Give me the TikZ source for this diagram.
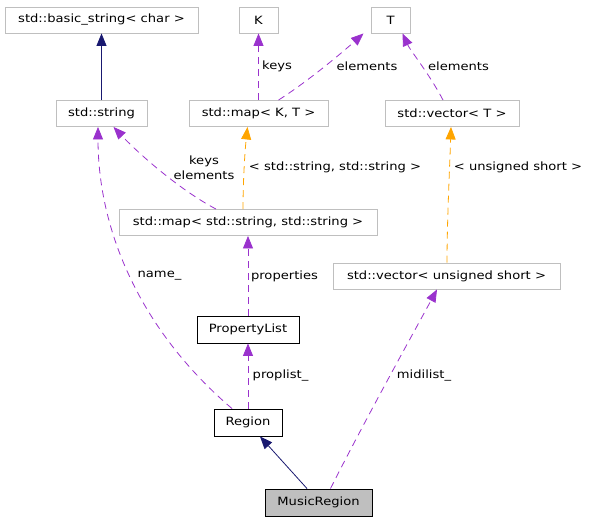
\documentclass[tikz,border=0pt]{standalone}
\usepackage{fontspec}
\setmainfont{DejaVu Sans}[FakeStretch=1.15]
\usetikzlibrary{arrows.meta}
\definecolor{purp}{HTML}{9A32CD}
\definecolor{orng}{HTML}{FFA500}
\definecolor{navyb}{HTML}{191970}
\definecolor{grayb}{HTML}{BFBFBF}
\begin{document}
\begin{tikzpicture}[x=1pt,y=-1pt,
  every node/.style={font=\fontsize{11.4}{15}\selectfont, inner sep=0pt},
  ext/.style={draw=grayb, line width=0.9pt, minimum height=26pt},
  doc/.style={draw=black, line width=0.9pt, minimum height=27pt},
  cur/.style={draw=black, fill=grayb, line width=0.9pt, minimum height=27pt},
  tip/.style={-{Triangle[length=12.5pt,width=10pt]}},
  usesrel/.style={tip, draw=purp, line width=0.8pt, dash pattern=on 7pt off 5pt},
  tmplrel/.style={tip, draw=orng, line width=0.8pt, dash pattern=on 7pt off 5pt},
  inhrel/.style={tip, draw=navyb, line width=0.8pt},
  lbl/.style={fill=none}
]
\useasboundingbox (0,0) rectangle (593,523);
% nodes
\node[ext, minimum width=193pt] (bs) at (101.5,20) {std::basic\_string< char >};
\node[ext, minimum width=39pt] (K) at (258.5,20) {K};
\node[ext, minimum width=39pt] (T) at (390.5,20) {T};
\node[ext, minimum width=91pt] (str) at (101.5,113.5) {std::string};
\node[ext, minimum width=139pt] (mapKT) at (258.5,113.5) {std::map< K, T >};
\node[ext, minimum width=134pt] (vecT) at (452,113.5) {std::vector< T >};
\node[ext, minimum width=258pt] (mapSS) at (248,222.5) {std::map< std::string, std::string >};
\node[ext, minimum width=227pt] (vecUS) at (446.5,276) {std::vector< unsigned short >};
\node[doc, minimum width=102pt] (PL) at (248,329.5) {PropertyList};
\node[doc, minimum width=68pt] (Reg) at (248,422.5) {Region};
\node[cur, minimum width=107pt] (MR) at (318.5,502.5) {MusicRegion};
% edges
\draw[inhrel] (str.north) -- (bs.south);
\draw[usesrel] (mapKT.north) -- (K.south);
\draw[usesrel] ([xshift=20pt]mapKT.north) .. controls (310,80) and (345,50) .. ([xshift=-27pt]T.south);
\draw[usesrel] ([xshift=-9pt]vecT.north) .. controls (430,75) and (410,50) .. ([xshift=12pt]T.south);
\draw[usesrel] ([xshift=-32pt]mapSS.north) .. controls (180,190) and (140,155) .. ([xshift=12pt]str.south);
\draw[tmplrel] ([xshift=-5pt]mapSS.north) .. controls (243,180) and (245,150) .. ([xshift=-11pt]mapKT.south);
\draw[tmplrel] ([xshift=0.5pt]vecUS.north) .. controls (447,220) and (450,160) .. ([xshift=-1pt]vecT.south);
\draw[usesrel] ([xshift=-16pt]Reg.north) .. controls (140,330) and (98,230) .. ([xshift=-3.5pt]str.south);
\draw[usesrel] (PL.north) -- (mapSS.south);
\draw[usesrel] (Reg.north) -- (PL.south);
\draw[usesrel] ([xshift=12pt]MR.north) .. controls (365,420) and (415,330) .. ([xshift=-9.5pt]vecUS.south);
\draw[inhrel] ([xshift=-11.5pt]MR.north) -- ([xshift=12pt]Reg.south);
% labels
\node[lbl, anchor=west] (l1) at (262,66) {keys};
\node[lbl] (l2) at (367,66) {elements};
\node[lbl] (l3) at (458.5,66) {elements};
\node[lbl, align=center] (l4) at (204,167.5) {keys\\elements};
\node[lbl] (l5) at (335,167) {< std::string, std::string >};
\node[lbl] (l6) at (518,167) {< unsigned short >};
\node[lbl] (l7) at (159.5,276) {name\_};
\node[lbl] (l8) at (284.5,276) {properties};
\node[lbl] (l9) at (280.5,376) {proplist\_};
\node[lbl] (l10) at (424,376) {midilist\_};
\end{tikzpicture}
\end{document}
